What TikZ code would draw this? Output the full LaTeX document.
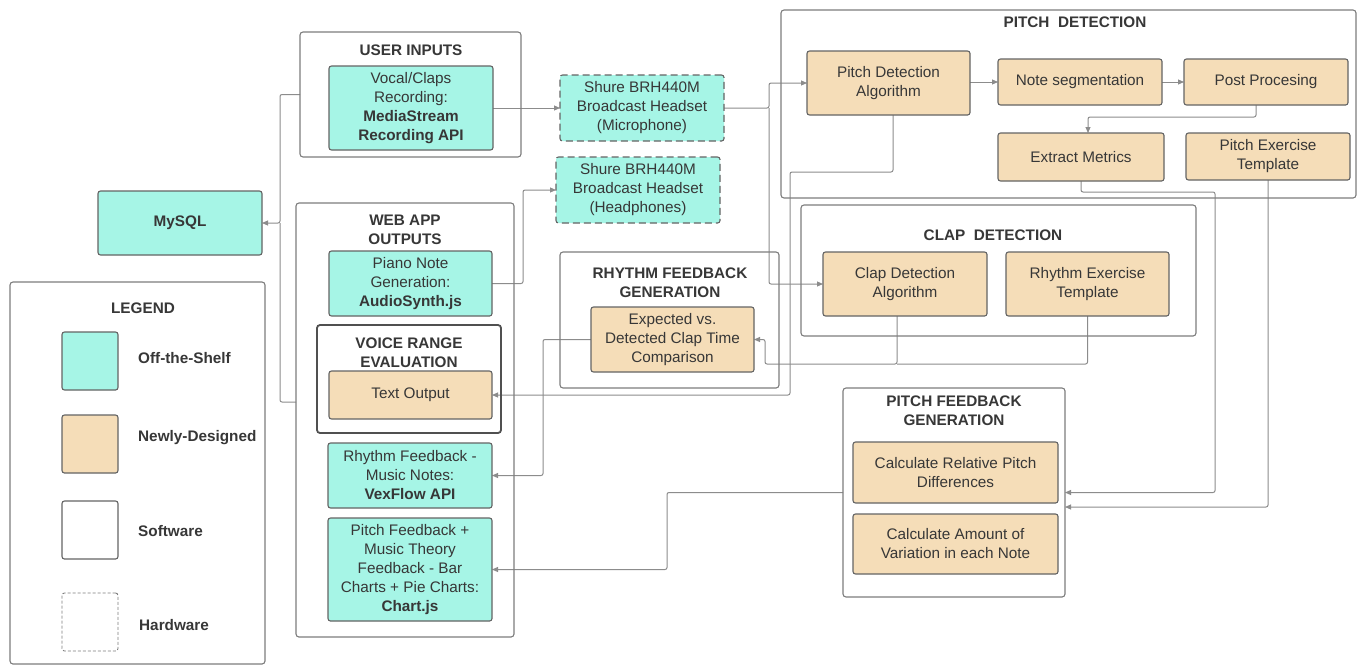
\documentclass[tikz,border=0pt]{standalone}
\usepackage{fontspec}
\setmainfont{Liberation Sans}
\usetikzlibrary{arrows.meta}
\definecolor{cyanf}{RGB}{166,245,230}
\definecolor{tanf}{RGB}{245,221,184}
\definecolor{bordc}{RGB}{100,100,100}
\definecolor{contc}{RGB}{125,125,125}
\definecolor{voicec}{RGB}{80,80,80}
\definecolor{wirec}{RGB}{140,140,140}
\definecolor{txtc}{RGB}{55,55,55}
\newcommand{\dfont}{\fontsize{15.3}{19}\selectfont}
\pgfdeclarelayer{bgl}
\pgfdeclarelayer{wires}
\pgfsetlayers{bgl,wires,main}
\begin{document}
\begin{tikzpicture}[x=1pt,y=-1pt,
 sz/.style 2 args={minimum width=#1pt,minimum height=#2pt},
 basebox/.style={draw=bordc,line width=1.1pt,rounded corners=2.5pt,inner sep=0pt,outer sep=0pt,align=center,font=\dfont,text=txtc},
 shelf/.style={basebox,fill=cyanf},
 newd/.style={basebox,fill=tanf},
 hw/.style={shelf,dash pattern=on 7pt off 4pt},
 contbox/.style={draw=contc,line width=1.1pt,rounded corners=3pt,inner sep=0pt,outer sep=0pt},
 ttl/.style={font=\dfont\bfseries,text=txtc,align=center,inner sep=0pt},
 lbl/.style={font=\dfont\bfseries,text=txtc,anchor=west,inner sep=0pt},
 wire/.style={draw=wirec,line width=1pt,rounded corners=2pt},
 arr/.style={wire,-{Triangle[length=6pt,width=5pt]}},
]
\begin{pgfonlayer}{bgl}
\fill[white] (0,0) rectangle (1364,667);
\end{pgfonlayer}
\useasboundingbox (0,0) rectangle (1364,667);

% USER INPUTS
\node[contbox,sz={221}{125}] (ui) at (410.5,94.5) {};
\node[ttl] (uit) at (411,50) {USER INPUTS};
\node[shelf,sz={164}{84}] (media) at (411,108) {Vocal/Claps\\Recording:\\\textbf{MediaStream}\\\textbf{Recording API}};

% Hardware
\node[hw,sz={164}{66}] (mic) at (642,108) {Shure BRH440M\\Broadcast Headset\\(Microphone)};
\node[hw,sz={164}{66}] (phones) at (638,190) {Shure BRH440M\\Broadcast Headset\\(Headphones)};

% MySQL
\node[shelf,sz={164}{64}] (mysql) at (180,223) {\textbf{MySQL}};

% WEB APP OUTPUTS
\node[contbox,sz={218}{434}] (web) at (405,420) {};
\node[ttl] (webt) at (405,229.5) {WEB APP\\OUTPUTS};
\node[shelf,sz={163}{65}] (piano) at (410.5,283.5) {Piano Note\\Generation:\\\textbf{AudioSynth.js}};
\node[contbox,draw=voicec,line width=1.8pt,sz={184}{108}] (voice) at (409,379) {};
\node[ttl] (voicet) at (409,352.5) {VOICE RANGE\\EVALUATION};
\node[newd,sz={163}{48}] (textout) at (410.5,395) {Text Output};
\node[shelf,sz={164}{65}] (vex) at (410,475.5) {Rhythm Feedback -\\Music Notes:\\\textbf{VexFlow API}};
\node[shelf,sz={164}{103}] (chart) at (410,569.5) {Pitch Feedback +\\Music Theory\\Feedback - Bar\\Charts + Pie Charts:\\\textbf{Chart.js}};

% LEGEND
\node[contbox,sz={255}{382}] (legend) at (137.5,473) {};
\node[ttl] (legt) at (143,308) {LEGEND};
\node[shelf,sz={56}{58}] (lg1) at (90,361) {};
\node[newd,sz={56}{58}] (lg2) at (90,444) {};
\node[basebox,sz={56}{58}] (lg3) at (90,530) {};
\node[basebox,draw=contc,line width=0.9pt,dash pattern=on 3pt off 2pt,sz={56}{58}] (lg4) at (90,622) {};
\node[lbl] (lb1) at (138,358) {Off-the-Shelf};
\node[lbl] (lb2) at (138,438) {Newly-Designed};
\node[lbl] (lb3) at (138,531) {Software};
\node[lbl] (lb4) at (139,625) {Hardware};

% RHYTHM FEEDBACK GENERATION
\node[contbox,sz={219}{136}] (rfg) at (669.5,320) {};
\node[ttl] (rfgt) at (670,282.5) {RHYTHM FEEDBACK\\GENERATION};
\node[newd,sz={163}{65}] (expected) at (672.5,339.5) {Expected vs.\\Detected Clap Time\\Comparison};

% PITCH DETECTION
\node[contbox,sz={575}{188}] (pd) at (1068.5,104) {};
\node[ttl] (pdt) at (1075,22) {PITCH~~DETECTION};
\node[newd,sz={163}{64}] (pda) at (888.5,83) {Pitch Detection\\Algorithm};
\node[newd,sz={164}{46}] (noteseg) at (1080,82) {Note segmentation};
\node[newd,sz={164}{46}] (post) at (1266,82) {Post Procesing};
\node[newd,sz={166}{48}] (extract) at (1081,157) {Extract Metrics};
\node[newd,sz={164}{47}] (pet) at (1268,156.5) {Pitch Exercise\\Template};

% CLAP DETECTION
\node[contbox,sz={395}{131}] (clap) at (998.5,270.5) {};
\node[ttl] (clapt) at (993,235) {CLAP~~DETECTION};
\node[newd,sz={164}{64}] (cda) at (905,284) {Clap Detection\\Algorithm};
\node[newd,sz={163}{64}] (ret) at (1087.5,284) {Rhythm Exercise\\Template};

% PITCH FEEDBACK GENERATION
\node[contbox,sz={222}{209}] (pfg) at (954,492.5) {};
\node[ttl] (pfgt) at (954,410.5) {PITCH FEEDBACK\\GENERATION};
\node[newd,sz={205}{61}] (crp) at (955.5,472.5) {Calculate Relative Pitch\\Differences};
\node[newd,sz={205}{60}] (cav) at (955.5,544) {Calculate Amount of\\Variation in each Note};

% connectors
\coordinate (j1) at (769,108);
\coordinate (j2) at (897,364);
\coordinate (j3) at (280,223);
\begin{pgfonlayer}{wires}
\draw[arr] (media.east) -- (mic.west);
\draw[arr] (mic.east) -- (j1) |- (pda.west);
\draw[arr] (j1) |- (cda.west);
\draw[arr] ([xshift=4.5pt]pda.south) |- (790,172) |- (textout.east);
\draw[arr] (noteseg.west -| pda.east) -- (noteseg.west);
\draw[arr] (noteseg.east) -- (post.west);
\draw[arr] ([xshift=-10pt]post.south) |- (1088,117) -- ([xshift=7pt]extract.north);
\draw[arr] (extract.south) |- (1215,192) |- (pfg.east);
\draw[arr] (pet.south) |- ([yshift=-14.5pt]pfg.east);
\draw[arr] ([xshift=-8pt]cda.south) -- (j2) -- (765,364) -- (765,339.5) -- (expected.east);
\draw[wire] (ret.south) |- (j2);
\draw[arr] (expected.west) -- (543,339.5) |- (vex.east);
\draw[arr] (piano.east) -- (523,283.5) |- (phones.west);
\draw[arr] (pfg.west) -- (667,492.5) |- (chart.east);
\draw[arr] (ui.west) -| (j3) -- (mysql.east);
\draw[wire] ([yshift=18pt]web.west) -| (j3);
\end{pgfonlayer}
\end{tikzpicture}
\end{document}
